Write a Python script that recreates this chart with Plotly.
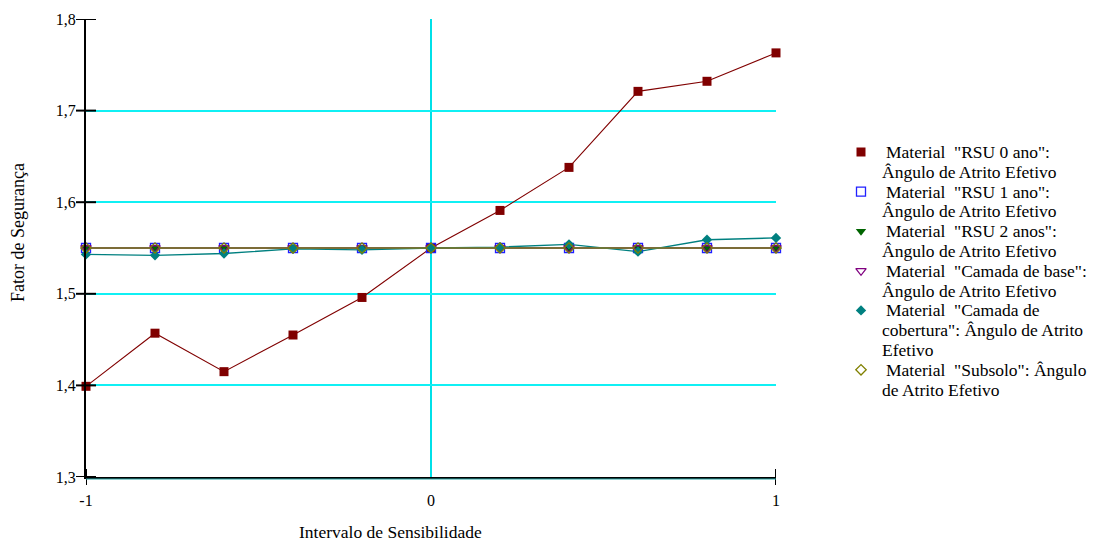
import plotly.graph_objects as go

# Sensitivity interval (x) and safety factor results (y)
intervalo = [-1.0, -0.8, -0.6, -0.4, -0.2, 0.0, 0.2, 0.4, 0.6, 0.8, 1.0]

fs_rsu0 = [1.399, 1.457, 1.415, 1.455, 1.496, 1.550, 1.591, 1.638, 1.721, 1.732, 1.763]
fs_rsu1 = [1.550] * 11
fs_rsu2 = [1.550] * 11
fs_base = [1.550] * 11
fs_cobertura = [1.543, 1.542, 1.544, 1.549, 1.548, 1.550, 1.551, 1.554, 1.546, 1.559, 1.561]
fs_subsolo = [1.550] * 11

# legend text, one list of lines per series
nomes = [
    ["Material  \"RSU 0 ano\":", "Ângulo de Atrito Efetivo"],
    ["Material  \"RSU 1 ano\":", "Ângulo de Atrito Efetivo"],
    ["Material  \"RSU 2 anos\":", "Ângulo de Atrito Efetivo"],
    ["Material  \"Camada de base\":", "Ângulo de Atrito Efetivo"],
    ["Material  \"Camada de", "cobertura\": Ângulo de Atrito", "Efetivo"],
    ["Material  \"Subsolo\": Ângulo", "de Atrito Efetivo"],
]

y_ticks = [1.3, 1.4, 1.5, 1.6, 1.7, 1.8]
x_ticks = [-1, 0, 1]

W, H = 1094, 543
PX_L, PX_R, PX_T, PX_B = 86, 776, 19, 477   # plot area in page pixels

series = [
    (fs_rsu0, "#800000", 1.1, dict(symbol="square", size=9, color="#800000")),
    (fs_rsu1, "#3030FF", 1.2, dict(symbol="square-open", size=9, color="#2020FF", line=dict(width=1.3))),
    (fs_rsu2, "#008000", 1.2, dict(symbol="triangle-down", size=9, color="#006400")),
    (fs_base, "#800080", 1.2, dict(symbol="triangle-down-open", size=9, color="#800080", line=dict(width=1.3))),
    (fs_cobertura, "#008080", 1.4, dict(symbol="diamond", size=8, color="#008080")),
    (fs_subsolo, "#857A20", 1.6, dict(symbol="diamond-open", size=8, color="#808000", line=dict(width=1.3))),
]

fig = go.Figure()

# connecting lines
for ys, cor, lw, mk in series:
    fig.add_trace(go.Scatter(
        x=intervalo, y=ys, mode="lines", line=dict(color=cor, width=lw),
        showlegend=False, hoverinfo="skip", cliponaxis=False,
    ))

# data markers
for ys, cor, lw, mk in series:
    fig.add_trace(go.Scatter(
        x=intervalo, y=ys, mode="markers", marker=mk,
        showlegend=False, cliponaxis=False,
    ))

# legend block drawn on a full-page pixel axis pair
leg_sym_x, leg_txt_x, leg_top, leg_line = 861, 880, 152, 19.8
annotations = []
linha = 0
for (ys, cor, lw, mk), linhas in zip(series, nomes):
    y_item = leg_top + linha * leg_line
    fig.add_trace(go.Scatter(
        x=[leg_sym_x], y=[y_item], xaxis="x2", yaxis="y2",
        mode="markers", marker=mk, showlegend=False, hoverinfo="skip",
    ))
    for k, txt in enumerate(linhas):
        annotations.append(dict(
            text=txt, xref="x2", yref="y2",
            x=leg_txt_x + (4 if k == 0 else 0), y=leg_top + linha * leg_line,
            xanchor="left", yanchor="middle", showarrow=False,
            font=dict(size=17.5),
        ))
        linha += 1

# axis titles
annotations.append(dict(text="Fator de Segurança", xref="x2", yref="y2",
                        x=18, y=233, textangle=-90, showarrow=False,
                        font=dict(size=18)))
annotations.append(dict(text="Intervalo de Sensibilidade", xref="x2", yref="y2",
                        x=390, y=532, yanchor="middle", showarrow=False,
                        font=dict(size=17.5)))

# tick marks crossing the axes, dark centre of the zero line, teal rule under x axis
shapes = []
pw, ph = PX_R - PX_L, PX_B - PX_T
for v in y_ticks:
    shapes.append(dict(type="line", xref="x domain", yref="y",
                       x0=-10 / pw, x1=10 / pw, y0=v, y1=v,
                       line=dict(color="black", width=2), layer="above"))
for v in [-1, 1]:
    shapes.append(dict(type="line", xref="x", yref="y domain",
                       x0=v, x1=v, y0=-8 / ph, y1=8 / ph,
                       line=dict(color="black", width=2), layer="above"))
shapes.append(dict(type="line", xref="x", yref="y domain", x0=0, x1=0, y0=0, y1=1,
                   line=dict(color="#508888", width=0.8), layer="below"))
shapes.append(dict(type="line", xref="x domain", yref="y domain", x0=0, x1=1,
                   y0=-2 / ph, y1=-2 / ph,
                   line=dict(color="#20A0A0", width=1), layer="above"))

fig.update_layout(
    width=W, height=H,
    margin=dict(l=0, r=0, t=0, b=0, autoexpand=False),
    paper_bgcolor="white", plot_bgcolor="rgba(0,0,0,0)",
    separators=", ",
    font=dict(family="Liberation Serif", size=16, color="black"),
    xaxis=dict(
        domain=[PX_L / W, PX_R / W],
        range=[-1, 1], tickvals=x_ticks, ticktext=["-1", "0", "1"],
        showgrid=True, gridcolor="#00E0E8", gridwidth=2,
        zeroline=False,
        showline=True, linecolor="black", linewidth=2,
        ticks="outside", ticklen=8, tickcolor="rgba(0,0,0,0)",
        tickfont=dict(size=16),
    ),
    yaxis=dict(
        domain=[1 - PX_B / H, 1 - PX_T / H],
        range=[1.3, 1.8], tickvals=y_ticks, tickformat=".1f",
        showgrid=True, gridcolor="#10F0F4", gridwidth=1.5,
        zeroline=False, showline=True, linecolor="black", linewidth=2,
        ticks="outside", ticklen=5, tickcolor="rgba(0,0,0,0)",
        tickfont=dict(size=16),
    ),
    xaxis2=dict(domain=[0, 1], range=[0, W], visible=False, anchor="y2",
                fixedrange=True),
    yaxis2=dict(domain=[0, 1], range=[H, 0], visible=False, anchor="x2",
                fixedrange=True),
    showlegend=False,
    shapes=shapes,
    annotations=annotations,
)

fig.write_html("out.html")
